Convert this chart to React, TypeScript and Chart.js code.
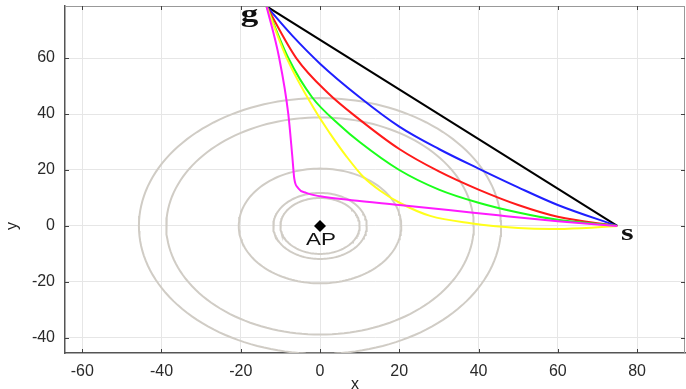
import React, { useEffect, useRef } from 'react';
import { Chart, registerables } from 'chart.js';

Chart.register(...registerables);

// Axis ranges and tick labels
const xRange = [-64.35, 92.1];
const yRange = [-45.4, 78.6];
const xTickValues = [-60, -40, -20, 0, 20, 40, 60, 80];
const yTickValues = [-40, -20, 0, 20, 40, 60];

// Concentric circles around AP (radii in data units)
const circleRadii = [10, 11.8, 20.5, 38.8, 45.7];

// Marked points
const goalPoint = [-13.5, 78.5];
const startPoint = [75, 0];
const apPoint = [0, 0];

// Paths from g to s
const blackPath = [[-13.5, 78.5], [75, 0]];
const bluePath = [
  [-13.5, 78.5], [-7, 68], [0, 58], [10, 46], [20, 35.5], [30, 27.5], [40, 20.5],
  [50, 13.8], [60, 7.5], [75, 0],
];
const redPath = [
  [-13.5, 78.5], [-6, 60], [2, 47.5], [10, 38], [20, 27.5], [30, 19.5], [40, 13],
  [50, 7.5], [60, 3.3], [75, 0],
];
const greenPath = [
  [-13.5, 78.5], [-8, 60], [-2, 46], [5, 36], [10, 30], [20, 20], [30, 13], [40, 8.3],
  [50, 4.8], [60, 2.2], [75, 0],
];
const yellowPath = [
  [-13.5, 78.5], [-8.4, 60], [-1.3, 41.4], [2.5, 33.1], [6.7, 24.8], [10.9, 17.6],
  [15.2, 12.6], [20.2, 8.2], [27.8, 3.6], [38, 1], [50, -0.7], [58, -1.1], [66, -0.8], [75, 0],
];
const magentaPath = [
  [-13.5, 78.5], [-10.3, 60], [-8, 40], [-7, 25], [-6.5, 17], [-5.5, 13.5], [-3.5, 11.8],
  [0, 10.6], [8, 9.2], [20, 7.5], [33, 5.6], [45, 3.8], [60, 1.7], [75, 0],
];

const pathSeries = [
  { name: 'black', color: '#000000', path: blackPath },
  { name: 'blue', color: '#1f1fff', path: bluePath },
  { name: 'red', color: '#ff1a1a', path: redPath },
  { name: 'green', color: '#1aff1a', path: greenPath },
  { name: 'yellow', color: '#ffff1a', path: yellowPath },
  { name: 'magenta', color: '#ff1aff', path: magentaPath },
];

const toXY = (p: number[][]) => p.map(([x, y]) => ({ x, y }));

const circlePoints = (r: number) => {
  const n = 160;
  const pts = [];
  for (let i = 0; i <= n; i++) {
    const a = (2 * Math.PI * i) / n;
    pts.push({ x: r * Math.cos(a), y: r * Math.sin(a) });
  }
  return pts;
};

const overlayPlugin = {
  id: 'overlay',
  afterDatasetsDraw(chart: any) {
    const { ctx, chartArea: a, scales } = chart;
    const xs = scales.x;
    const ys = scales.y;
    ctx.save();
    // top and right frame
    ctx.strokeStyle = '#999999';
    ctx.lineWidth = 1;
    ctx.beginPath();
    ctx.moveTo(a.left, a.top + 0.5);
    ctx.lineTo(a.right, a.top + 0.5);
    ctx.moveTo(a.right - 0.5, a.top);
    ctx.lineTo(a.right - 0.5, a.bottom);
    ctx.stroke();
    // inward tick marks
    ctx.strokeStyle = '#404040';
    ctx.beginPath();
    xTickValues.forEach((v) => {
      const px = Math.round(xs.getPixelForValue(v)) + 0.5;
      ctx.moveTo(px, a.bottom);
      ctx.lineTo(px, a.bottom - 4);
      ctx.moveTo(px, a.top);
      ctx.lineTo(px, a.top + 4);
    });
    yTickValues.forEach((v) => {
      const py = Math.round(ys.getPixelForValue(v)) + 0.5;
      ctx.moveTo(a.left, py);
      ctx.lineTo(a.left + 4, py);
      ctx.moveTo(a.right, py);
      ctx.lineTo(a.right - 4, py);
    });
    ctx.stroke();

    const drawStretched = (text: string, x: number, y: number, font: string, sx: number) => {
      ctx.save();
      ctx.translate(x, y);
      ctx.scale(sx, 1);
      ctx.font = font;
      ctx.textAlign = 'center';
      ctx.textBaseline = 'alphabetic';
      ctx.fillStyle = '#111111';
      ctx.fillText(text, 0, 0);
      ctx.restore();
    };
    const gx = xs.getPixelForValue(goalPoint[0]);
    const gy = ys.getPixelForValue(goalPoint[1]);
    drawStretched('g', gx - 17, gy + 16, 'bold 26px "Liberation Serif"', 1.35);
    const sx = xs.getPixelForValue(startPoint[0]);
    const sy = ys.getPixelForValue(startPoint[1]);
    drawStretched('s', sx + 10, sy + 14, 'bold 24px "Liberation Serif"', 1.35);
    const ax = xs.getPixelForValue(apPoint[0]);
    const ay = ys.getPixelForValue(apPoint[1]);
    drawStretched('AP', ax + 1, ay + 19, '16px "Liberation Sans"', 1.4);

    // axis titles
    ctx.fillStyle = '#222222';
    ctx.font = '16px "Liberation Sans"';
    ctx.textAlign = 'center';
    ctx.textBaseline = 'alphabetic';
    ctx.fillText('x', 355, 389);
    ctx.save();
    ctx.translate(17, 226);
    ctx.rotate(-Math.PI / 2);
    ctx.fillText('y', 0, 0);
    ctx.restore();
    ctx.restore();
  },
};

export default function App() {
  const canvasRef = useRef<HTMLCanvasElement | null>(null);

  useEffect(() => {
    if (!canvasRef.current) return;
    const datasets: any[] = [];
    circleRadii.forEach((r) => {
      datasets.push({
        data: circlePoints(r),
        showLine: true,
        borderColor: '#d0ccc5',
        borderWidth: 2,
        pointRadius: 0,
        tension: 0,
        order: 10,
      });
    });
    pathSeries.forEach((s, i) => {
      datasets.push({
        data: toXY(s.path),
        showLine: true,
        borderColor: s.color,
        borderWidth: 2,
        pointRadius: 0,
        cubicInterpolationMode: 'monotone',
        order: 7 - i,
      });
    });
    datasets.push({
      data: [{ x: apPoint[0], y: apPoint[1] }],
      showLine: false,
      pointStyle: 'rectRot',
      pointRadius: 6,
      backgroundColor: '#000000',
      borderColor: '#000000',
      borderWidth: 0,
      order: 0,
    });

    const tickFont = { family: '"Liberation Sans", Arial, sans-serif', size: 16 };
    const chart = new Chart(canvasRef.current, {
      type: 'scatter',
      data: { datasets },
      options: {
        responsive: false,
        animation: false,
        layout: { autoPadding: false, padding: { left: 0, right: 1, top: 6, bottom: 0 } },
        plugins: { legend: { display: false }, tooltip: { enabled: false } },
        scales: {
          x: {
            type: 'linear',
            min: xRange[0],
            max: xRange[1],
            afterBuildTicks: (scale: any) => {
              scale.ticks = xTickValues.map((v) => ({ value: v }));
            },
            afterFit: (scale: any) => {
              scale.height = 36;
              scale.paddingLeft = 0;
              scale.paddingRight = 0;
              scale.paddingTop = 0;
              scale.paddingBottom = 0;
            },
            ticks: { color: '#2a2a2a', font: tickFont, padding: 9, maxRotation: 0, autoSkip: false },
            grid: { color: '#e6e6e6', lineWidth: 1, drawTicks: false },
            border: { color: '#555555', width: 1.5 },
          },
          y: {
            type: 'linear',
            min: yRange[0],
            max: yRange[1],
            afterBuildTicks: (scale: any) => {
              scale.ticks = yTickValues.map((v) => ({ value: v }));
            },
            afterFit: (scale: any) => {
              scale.width = 65;
              scale.paddingLeft = 0;
              scale.paddingRight = 0;
              scale.paddingTop = 0;
              scale.paddingBottom = 0;
            },
            ticks: { color: '#2a2a2a', font: tickFont, padding: 10, autoSkip: false },
            grid: { color: '#e6e6e6', lineWidth: 1, drawTicks: false },
            border: { color: '#555555', width: 1.5 },
          },
        },
      },
      plugins: [overlayPlugin],
    });
    return () => chart.destroy();
  }, []);

  return (
    <div style={{ position: 'absolute', left: 0, top: 0, width: 686, height: 389, background: '#ffffff' }}>
      <canvas ref={canvasRef} width={686} height={389} style={{ display: 'block' }} />
    </div>
  );
}
